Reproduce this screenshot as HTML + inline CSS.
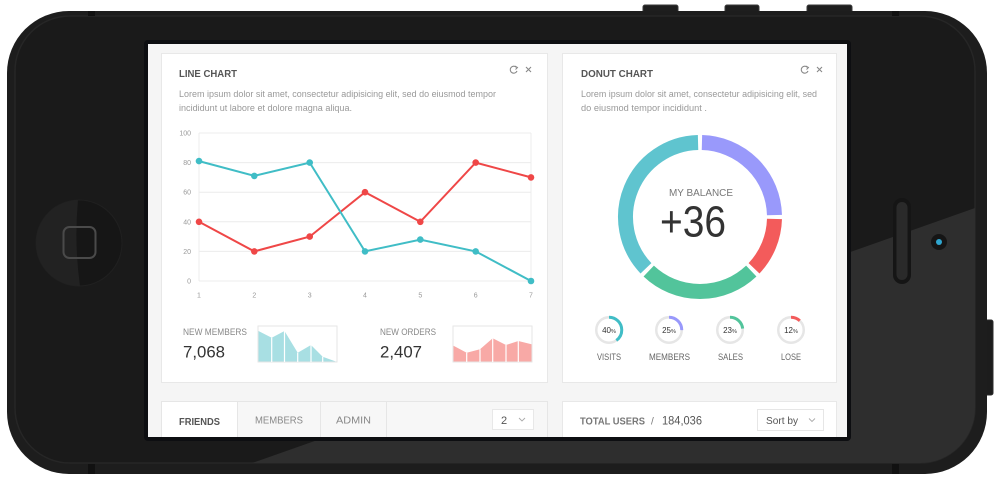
<!DOCTYPE html>
<html><head><meta charset="utf-8"><style>
html,body{margin:0;padding:0;background:#fff;}
svg{display:block;}
text{font-family:"Liberation Sans",Arial,sans-serif;}
</style></head><body>
<svg width="1000" height="486" viewBox="0 0 1000 486" xmlns="http://www.w3.org/2000/svg">
<defs>
<clipPath id="inner"><rect x="15" y="16" width="960" height="447" rx="55"/></clipPath>
<clipPath id="scr"><rect x="148" y="44" width="699" height="393"/></clipPath>
</defs>
<!-- top buttons -->
<rect x="643" y="5" width="35" height="10" rx="2" fill="#1e1e1e" stroke="#3a3a3a" stroke-width="1"/>
<rect x="725" y="5" width="34" height="10" rx="2" fill="#1e1e1e" stroke="#3a3a3a" stroke-width="1"/>
<rect x="807" y="5" width="45" height="10" rx="2" fill="#1e1e1e" stroke="#3a3a3a" stroke-width="1"/>
<!-- side button -->
<rect x="982" y="320" width="11" height="75" rx="2" fill="#1c1c1c" stroke="#2c2c2c"/>
<!-- body -->
<rect x="7" y="11" width="980" height="463" rx="62" fill="#1d1d1d"/>
<rect x="15" y="16" width="960" height="447" rx="55" fill="#1a1a1a" stroke="#262626" stroke-width="1.5"/>
<g clip-path="url(#inner)">
<polygon points="1000,199.2 1000,486 187,486" fill="#2e2e2e"/>
</g>
<!-- antenna bands -->
<rect x="88" y="11" width="7" height="5" fill="#111"/>
<rect x="892" y="11" width="7" height="5" fill="#111"/>
<rect x="88" y="464" width="7" height="10" fill="#111"/>
<rect x="892" y="464" width="7" height="10" fill="#111"/>
<!-- home button -->
<circle cx="79" cy="243" r="43" fill="#161616" stroke="#202020"/>
<path d="M78,200 A43,43 0 0,0 80,286 Q74,243 78,200 Z" fill="#222"/>
<rect x="63.5" y="227" width="32" height="31" rx="6" fill="none" stroke="#4a4a4a" stroke-width="2"/>
<!-- speaker & camera -->
<rect x="893" y="198" width="18" height="86" rx="9" fill="#151515"/>
<rect x="896.5" y="202" width="11" height="78" rx="5.5" fill="#2a2a2a"/>
<circle cx="939" cy="242" r="8" fill="#151515"/>
<circle cx="939" cy="242" r="3" fill="#2fa6cf"/>
<!-- screen -->
<rect x="144" y="40" width="707" height="401" rx="4" fill="#0d0e11"/>
<rect x="148" y="44" width="699" height="393" fill="#f5f5f5"/>
<g clip-path="url(#scr)">
<!-- Card 1 -->
<rect x="161.5" y="53.5" width="386" height="329" fill="#fff" stroke="#e8e8e8"/>
<text x="179" y="77" font-size="10.5" font-weight="bold" fill="#555" textLength="58" lengthAdjust="spacingAndGlyphs">LINE CHART</text>
<path d="M516.5,67.5 A3.5,3.5 0 1,0 517,71" fill="none" stroke="#888" stroke-width="1.1"/>
<path d="M515,66 L517.5,67.5 L515.5,69.5" fill="none" stroke="#888" stroke-width="1"/>
<path d="M526,67 L531,72 M531,67 L526,72" stroke="#888" stroke-width="1.1"/>
<text x="179" y="97" font-size="9" fill="#999" textLength="317" lengthAdjust="spacingAndGlyphs">Lorem ipsum dolor sit amet, consectetur adipisicing elit, sed do eiusmod tempor</text>
<text x="179" y="111" font-size="9" fill="#999" textLength="173" lengthAdjust="spacingAndGlyphs">incididunt ut labore et dolore magna aliqua.</text>
<!-- grid -->
<g stroke="#ececec" stroke-width="1">
<line x1="199" y1="133" x2="531" y2="133"/>
<line x1="199" y1="162.6" x2="531" y2="162.6"/>
<line x1="199" y1="192.2" x2="531" y2="192.2"/>
<line x1="199" y1="221.8" x2="531" y2="221.8"/>
<line x1="199" y1="251.4" x2="531" y2="251.4"/>
<line x1="199" y1="281" x2="531" y2="281"/>
<line x1="199" y1="133" x2="199" y2="281"/>
<line x1="531" y1="133" x2="531" y2="281"/>
</g>
<g font-size="7" fill="#999" text-anchor="end">
<text x="191" y="135.5">100</text>
<text x="191" y="165">80</text>
<text x="191" y="194.7">60</text>
<text x="191" y="224.3">40</text>
<text x="191" y="254">20</text>
<text x="191" y="283.5">0</text>
</g>
<g font-size="7" fill="#999" text-anchor="middle">
<text x="199" y="297.5">1</text>
<text x="254.3" y="297.5">2</text>
<text x="309.7" y="297.5">3</text>
<text x="365" y="297.5">4</text>
<text x="420.3" y="297.5">5</text>
<text x="475.7" y="297.5">6</text>
<text x="531" y="297.5">7</text>
</g>
<polyline points="199,221.8 254.3,251.4 309.7,236.6 365,192.2 420.3,221.8 475.7,162.6 531,177.4" fill="none" stroke="#ef4747" stroke-width="2"/>
<g fill="#ef4747">
<circle cx="199" cy="221.8" r="3.3"/><circle cx="254.3" cy="251.4" r="3.3"/><circle cx="309.7" cy="236.6" r="3.3"/><circle cx="365" cy="192.2" r="3.3"/><circle cx="420.3" cy="221.8" r="3.3"/><circle cx="475.7" cy="162.6" r="3.3"/><circle cx="531" cy="177.4" r="3.3"/>
</g>
<polyline points="199,161.1 254.3,175.9 309.7,162.6 365,251.4 420.3,239.6 475.7,251.4 531,281" fill="none" stroke="#40bdc6" stroke-width="2"/>
<g fill="#40bdc6">
<circle cx="199" cy="161.1" r="3.3"/><circle cx="254.3" cy="175.9" r="3.3"/><circle cx="309.7" cy="162.6" r="3.3"/><circle cx="365" cy="251.4" r="3.3"/><circle cx="420.3" cy="239.6" r="3.3"/><circle cx="475.7" cy="251.4" r="3.3"/><circle cx="531" cy="281" r="3.3"/>
</g>
<!-- mini stats -->
<text x="183" y="335" font-size="9" fill="#888" textLength="64" lengthAdjust="spacingAndGlyphs">NEW MEMBERS</text>
<text x="183" y="357.5" font-size="17" fill="#333" textLength="42" lengthAdjust="spacingAndGlyphs">7,068</text>
<rect x="258" y="326" width="79" height="36" fill="#fff" stroke="#e6e6e6"/>
<polygon points="258.5,331 271.7,337.7 284.5,331 297.7,352.7 311,345 322.7,356.7 336.5,361.7 336.5,361.5 258.5,361.5" fill="#a8dfe3"/>
<g stroke="#fff" stroke-width="1.2">
<line x1="271.7" y1="337.7" x2="271.7" y2="362"/><line x1="284.5" y1="331" x2="284.5" y2="362"/><line x1="297.7" y1="352.7" x2="297.7" y2="362"/><line x1="311" y1="345" x2="311" y2="362"/><line x1="322.7" y1="356.7" x2="322.7" y2="362"/>
</g>
<text x="380" y="335" font-size="9" fill="#888" textLength="56" lengthAdjust="spacingAndGlyphs">NEW ORDERS</text>
<text x="380" y="357.5" font-size="17" fill="#333" textLength="42" lengthAdjust="spacingAndGlyphs">2,407</text>
<rect x="453" y="326" width="79" height="36" fill="#fff" stroke="#e6e6e6"/>
<polygon points="453.5,345.7 466.7,352.7 480,349.3 492.7,338.3 506,345 518.3,341 531.5,344.3 531.5,361.5 453.5,361.5" fill="#f8a9a6"/>
<g stroke="#fff" stroke-width="1.2">
<line x1="466.7" y1="352.7" x2="466.7" y2="362"/><line x1="480" y1="349.3" x2="480" y2="362"/><line x1="492.7" y1="338.3" x2="492.7" y2="362"/><line x1="506" y1="345" x2="506" y2="362"/><line x1="518.3" y1="341" x2="518.3" y2="362"/>
</g>
<!-- Card 2 -->
<rect x="562.5" y="53.5" width="274" height="329" fill="#fff" stroke="#e8e8e8"/>
<text x="581" y="77" font-size="10.5" font-weight="bold" fill="#555" textLength="72" lengthAdjust="spacingAndGlyphs">DONUT CHART</text>
<path d="M807.5,67.5 A3.5,3.5 0 1,0 808,71" fill="none" stroke="#888" stroke-width="1.1"/>
<path d="M806,66 L808.5,67.5 L806.5,69.5" fill="none" stroke="#888" stroke-width="1"/>
<path d="M817,67 L822,72 M822,67 L817,72" stroke="#888" stroke-width="1.1"/>
<text x="581" y="97" font-size="9" fill="#999" textLength="236" lengthAdjust="spacingAndGlyphs">Lorem ipsum dolor sit amet, consectetur adipisicing elit, sed</text>
<text x="581" y="111" font-size="9" fill="#999" textLength="126" lengthAdjust="spacingAndGlyphs">do eiusmod tempor incididunt .</text>
<g fill="none" stroke-width="15">
<path d="M701.95,142.53 A74.5,74.5 0 0,1 774.47,215.05" stroke="#9999fb"/>
<path d="M774.47,218.95 A74.5,74.5 0 0,1 754.04,268.28" stroke="#f35b5b"/>
<path d="M751.28,271.04 A74.5,74.5 0 0,1 648.72,271.04" stroke="#52c49b"/>
<path d="M645.96,268.28 A74.5,74.5 0 0,1 698.05,142.53" stroke="#5fc4cf"/>
</g>
<text x="701" y="196" font-size="10.5" fill="#777" text-anchor="middle" textLength="64" lengthAdjust="spacingAndGlyphs">MY BALANCE</text>
<text x="693" y="236.5" font-size="44" fill="#333" text-anchor="middle" textLength="66" lengthAdjust="spacingAndGlyphs">+36</text>
<!-- small circles -->
<g fill="none" stroke-width="2.5">
<circle cx="609" cy="330" r="12.75" stroke="#e6e6e6"/>
<circle cx="609" cy="330" r="12.75" stroke="#40bdc6" stroke-width="3" stroke-dasharray="32 100" transform="rotate(-90 609 330)"/>
<circle cx="669" cy="330" r="12.75" stroke="#e6e6e6"/>
<circle cx="669" cy="330" r="12.75" stroke="#9999fb" stroke-width="3" stroke-dasharray="20 100" transform="rotate(-90 669 330)"/>
<circle cx="730" cy="330" r="12.75" stroke="#e6e6e6"/>
<circle cx="730" cy="330" r="12.75" stroke="#52c49b" stroke-width="3" stroke-dasharray="18.4 100" transform="rotate(-90 730 330)"/>
<circle cx="791" cy="330" r="12.75" stroke="#e6e6e6"/>
<circle cx="791" cy="330" r="12.75" stroke="#f35b5b" stroke-width="3" stroke-dasharray="9.6 100" transform="rotate(-90 791 330)"/>
</g>
<g font-size="8" fill="#333" text-anchor="middle">
<text x="609" y="333">40<tspan font-size="5.5">%</tspan></text>
<text x="669" y="333">25<tspan font-size="5.5">%</tspan></text>
<text x="730" y="333">23<tspan font-size="5.5">%</tspan></text>
<text x="791" y="333">12<tspan font-size="5.5">%</tspan></text>
</g>
<g font-size="9.5" fill="#666" text-anchor="middle">
<text x="609" y="360" textLength="24" lengthAdjust="spacingAndGlyphs">VISITS</text>
<text x="669.5" y="360" textLength="41" lengthAdjust="spacingAndGlyphs">MEMBERS</text>
<text x="730.5" y="360" textLength="25" lengthAdjust="spacingAndGlyphs">SALES</text>
<text x="791" y="360" textLength="20" lengthAdjust="spacingAndGlyphs">LOSE</text>
</g>
<!-- Card 3 tabs -->
<rect x="161.5" y="401.5" width="386" height="50" fill="#f7f7f7" stroke="#e6e6e6"/>
<rect x="162" y="402" width="75" height="50" fill="#fff"/>
<g stroke="#e6e6e6"><line x1="237.5" y1="402" x2="237.5" y2="440"/><line x1="320.5" y1="402" x2="320.5" y2="440"/><line x1="386.5" y1="402" x2="386.5" y2="440"/></g>
<text x="179" y="425" font-size="10.5" font-weight="bold" fill="#555" textLength="41" lengthAdjust="spacingAndGlyphs">FRIENDS</text>
<text x="255" y="423.5" font-size="10" fill="#888" textLength="48" lengthAdjust="spacingAndGlyphs">MEMBERS</text>
<text x="336" y="423.5" font-size="10" fill="#888" textLength="35" lengthAdjust="spacingAndGlyphs">ADMIN</text>
<rect x="492.5" y="409.5" width="41" height="20" fill="#fff" stroke="#e8e8e8"/>
<text x="501" y="424" font-size="11" fill="#555">2</text>
<path d="M519,418 L522,421 L525,418" fill="none" stroke="#aaa" stroke-width="0.9"/>
<!-- Card 4 -->
<rect x="562.5" y="401.5" width="274" height="50" fill="#fff" stroke="#e8e8e8"/>
<text x="580" y="424.3" font-size="10" font-weight="bold" fill="#777" textLength="65" lengthAdjust="spacingAndGlyphs">TOTAL USERS</text>
<text x="651" y="424.3" font-size="10" fill="#777">/</text>
<text x="662" y="424.3" font-size="12" fill="#555" textLength="40" lengthAdjust="spacingAndGlyphs">184,036</text>
<rect x="757.5" y="409.5" width="66" height="21" fill="#fff" stroke="#e6e6e6"/>
<text x="766" y="424" font-size="10.5" fill="#555" textLength="32" lengthAdjust="spacingAndGlyphs">Sort by</text>
<path d="M809,418.5 L812,421.5 L815,418.5" fill="none" stroke="#aaa" stroke-width="0.9"/>
</g>
</svg>
</body></html>
